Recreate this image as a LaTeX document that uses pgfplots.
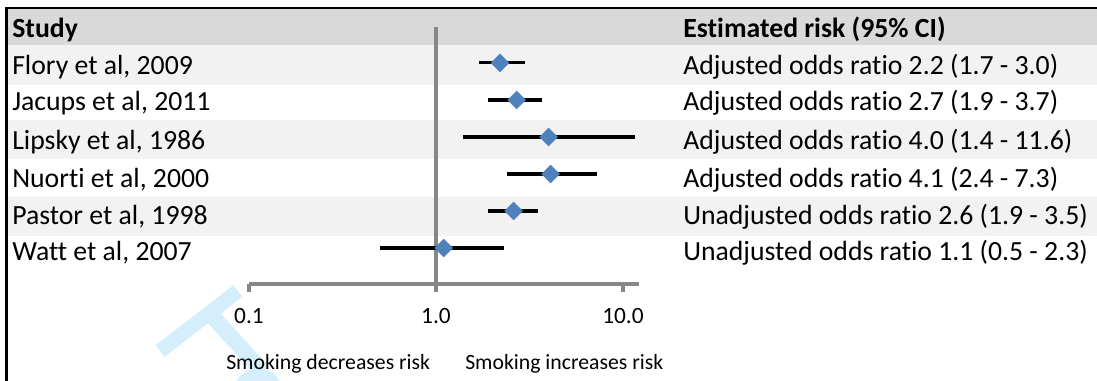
\documentclass[border=0pt]{standalone}
\usepackage{pgfplots}
\pgfplotsset{compat=1.18}
\usepackage{fontspec}
\setmainfont{Carlito}[Ligatures={NoCommon,NoContextual}]
\definecolor{hdr}{HTML}{D9D9D9}
\definecolor{alt}{HTML}{F2F2F2}
\definecolor{axgray}{HTML}{878787}
\definecolor{mkblue}{HTML}{4F81BD}
\definecolor{wm}{HTML}{D5EEFB}
\newcommand{\mainfs}{\fontsize{20.8}{24}\selectfont}
\newcommand{\smallfs}{\fontsize{16.3}{19}\selectfont}
\begin{document}
\begin{tikzpicture}
\begin{scope}[x=0.75pt,y=-0.75pt]
\useasboundingbox (0,0) rectangle (1097,381);
\fill[hdr] (6,9) rectangle (1097,45);
\fill[alt] (6,45) rectangle (1097,85);
\fill[alt] (6,120) rectangle (1097,159);
\fill[alt] (6,197) rectangle (1097,236);
\begin{scope}
\clip (6,272) rectangle (1097,381);
\draw[wm, line width=11pt] (160,351) -- (238,291);
\draw[wm, line width=12pt] (214,318) -- (263,372);
\fill[wm] (258,392) circle[radius=24];
\fill[white] (258,396) circle[radius=14];
\end{scope}
\draw[black, line width=1.9pt] (5,8) -- (1097,8);
\draw[black, line width=1.9pt] (6.5,7) -- (6.5,381);
\begin{scope}[every node/.style={anchor=base west, inner sep=0pt, font=\mainfs}]
\node[font=\mainfs\bfseries] at (12,38) {Study};
\node at (12,74.5) {Flory et al, 2009};
\node at (12,111) {Jacups et al, 2011};
\node at (12,150) {Lipsky et al, 1986};
\node at (12,187.5) {Nuorti et al, 2000};
\node at (12,224.5) {Pastor et al, 1998};
\node at (12,261) {Watt et al, 2007};
\node[font=\mainfs\bfseries] at (683,38) {Estimated risk (95\% CI)};
\node at (683,74.5) {Adjusted odds ratio 2.2 (1.7 - 3.0)};
\node at (683,111) {Adjusted odds ratio 2.7 (1.9 - 3.7)};
\node at (683,150) {Adjusted odds ratio 4.0 (1.4 - 11.6)};
\node at (683,187.5) {Adjusted odds ratio 4.1 (2.4 - 7.3)};
\node at (683,224.5) {Unadjusted odds ratio 2.6 (1.9 - 3.5)};
\node at (683,261) {Unadjusted odds ratio 1.1 (0.5 - 2.3)};
\node[font=\smallfs] at (226,369) {Smoking decreases risk};
\node[font=\smallfs] at (465,369) {Smoking increases risk};
\end{scope}
\end{scope}
\begin{axis}[
  at={(249*0.75pt,-284*0.75pt)}, anchor=south west,
  scale only axis, width=292.5pt, height=192.75pt,
  xmode=log, xmin=0.1, xmax=12.18, ymin=-284, ymax=-27,
  axis x line*=bottom, axis y line=none,
  x axis line style={-, axgray, line width=2.5pt},
  xtick={0.1,1,10}, xticklabels={0.1,1.0,10.0}, xminorticks=false,
  tick align=outside, major tick length=6pt,
  xtick style={axgray, line width=2.3pt},
  xticklabel style={font=\fontsize{17.5}{20}\selectfont, text=black, anchor=base, yshift=-24pt},
  clip=false,
]
\addplot[axgray, line width=2.5pt] coordinates {(1,-27) (1,-284)};
\addplot[black, line width=2.3pt] coordinates {(1.7,-63) (3.0,-63)};
\addplot[black, line width=2.3pt] coordinates {(1.9,-100) (3.7,-100)};
\addplot[black, line width=2.3pt] coordinates {(1.4,-137) (11.6,-137)};
\addplot[black, line width=2.3pt] coordinates {(2.4,-174) (7.3,-174)};
\addplot[black, line width=2.3pt] coordinates {(1.9,-211) (3.5,-211)};
\addplot[black, line width=2.3pt] coordinates {(0.5,-248) (2.3,-248)};
\addplot[only marks, mark=square*, mark size=4.7pt, mark options={rotate=45, fill=mkblue, draw=mkblue}]
  coordinates {(2.2,-63) (2.7,-100) (4.0,-137) (4.1,-174) (2.6,-211) (1.1,-248)};
\end{axis}
\end{tikzpicture}
\end{document}
